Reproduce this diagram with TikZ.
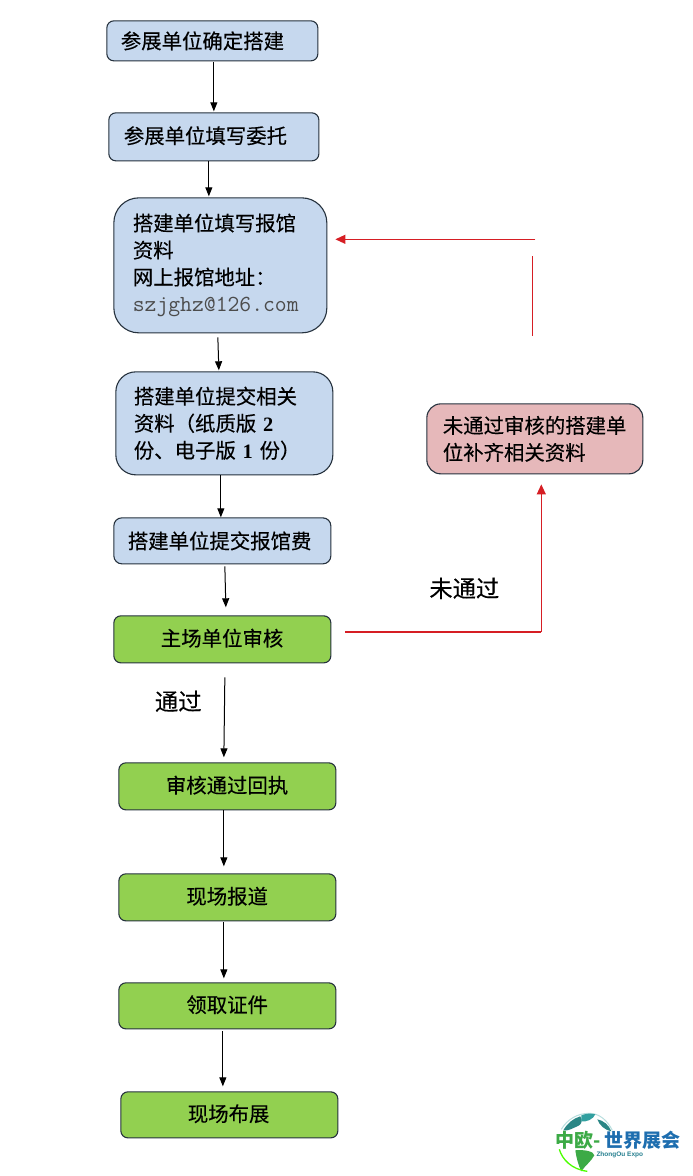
\documentclass[tikz,border=0pt]{standalone}
\usepackage{fontspec}
\setmainfont{Noto Sans CJK SC}[FakeBold=0.25]
\newfontfamily\logofont{Noto Sans CJK SC}
\newfontfamily\latinserif{Liberation Serif}
\newfontfamily\latinsans{Liberation Sans}
\newcommand{\numb}[1]{{\latinserif\bfseries #1}}
\usetikzlibrary{calc,arrows.meta}
\definecolor{boxblue}{RGB}{198,216,238}
\definecolor{boxgreen}{RGB}{146,208,80}
\definecolor{boxpink}{RGB}{230,184,186}
\definecolor{edgedark}{RGB}{38,50,62}
\definecolor{redline}{RGB}{214,30,36}
\definecolor{logogreen}{RGB}{60,170,70}
\definecolor{logoblue}{RGB}{30,110,175}
\definecolor{logoteal}{RGB}{50,160,160}
\tikzset{
  x=1pt,y=-1pt,
  flowbox/.style={draw=edgedark,line width=1.1pt,align=left,font=\fontsize{20.4}{27}\selectfont,inner xsep=0pt,inner ysep=0pt,anchor=north west},
  bluebox/.style={flowbox,fill=boxblue},
  greenbox/.style={flowbox,fill=boxgreen},
  pinkbox/.style={flowbox,fill=boxpink},
  arr/.style={black,line width=1pt,-{Triangle[length=9pt,width=7pt]}},
  redarr/.style={redline,line width=1.1pt,-{Triangle[length=10pt,width=9pt]}},
  redplain/.style={redline,line width=1.1pt},
  lab/.style={font=\fontsize{23.3}{26}\selectfont,inner sep=0pt},
  logomain/.style={font=\logofont\fontsize{19}{21}\bfseries\selectfont,inner sep=0pt,anchor=west},
}
\begin{document}
\begin{tikzpicture}
\useasboundingbox (0.7,0.7) rectangle (693.7,1176.7);
\fill[white] (0.7,0.7) rectangle (693.7,1176.7);
% boxes
\node[bluebox,rounded corners=7pt,minimum width=211pt,minimum height=40pt,text width=183pt] (n1) at (107,21) {参展单位确定搭建};
\node[bluebox,rounded corners=7pt,minimum width=210pt,minimum height=48pt,text width=180pt,text depth=4pt] (n2) at (109,113) {参展单位填写委托};
\node[bluebox,rounded corners=25pt,minimum width=213pt,minimum height=135pt,text width=175pt] (n3) at (114,198) {搭建单位填写报馆\\资料\\网上报馆地址：\\{\ttfamily\fontsize{23}{27}\selectfont\color{black!70}szjghz@126.com}};
\node[bluebox,rounded corners=20pt,minimum width=217pt,minimum height=103pt,text width=181pt] (n4) at (116,372) {搭建单位提交相关\\资料（纸质版 \numb{2}\\份、电子版 \numb{1} 份）};
\node[bluebox,rounded corners=8pt,minimum width=217pt,minimum height=46pt,text width=189pt] (n5) at (114,518) {搭建单位提交报馆费};
\node[greenbox,rounded corners=7pt,minimum width=217pt,minimum height=47pt,text width=123pt,text depth=4pt] (n6) at (114,616) {主场单位审核};
\node[greenbox,rounded corners=7pt,minimum width=217pt,minimum height=47pt,text width=123pt,text depth=4pt] (n7) at (119,763) {审核通过回执};
\node[greenbox,rounded corners=7pt,minimum width=217pt,minimum height=47pt,text width=82pt,text depth=4pt] (n8) at (119,874) {现场报道};
\node[greenbox,rounded corners=7pt,minimum width=217pt,minimum height=46pt,text width=82pt,text depth=4pt] (n9) at (119,983) {领取证件};
\node[greenbox,rounded corners=7pt,minimum width=217pt,minimum height=46pt,text width=83pt,text depth=4pt] (n10) at (121,1092) {现场布展};
\node[pinkbox,rounded corners=14pt,minimum width=216pt,minimum height=70pt,text width=184pt] (r) at (427,404) {未通过审核的搭建单\\位补齐相关资料};
% labels
\node[lab] (l1) at (465,589) {未通过};
\node[lab] (l2) at (179,702) {通过};
% black connectors
\draw[arr] ($(n1.south)+(1.5,1)$) -- ($(n2.north)+(0,-1)$);
\draw[arr] ($(n2.south)+(-5,0)$) -- ($(n3.north)+(-11.5,-1)$);
\draw[arr] ($(n3.south)+(-2.5,4)$) -- ($(n4.north)+(-5.5,-1)$);
\draw[arr] ($(n4.south)+(-3.5,0)$) -- ($(n5.north)+(-1.5,0)$);
\draw[arr] ($(n5.south)+(2.5,2)$) -- ($(n6.north)+(3.5,-8)$);
\draw[arr] ($(n6.south)+(2.5,14)$) -- ($(n7.north)+(-3.5,-5)$);
\draw[arr] ($(n7.south)+(-3.5,0)$) -- ($(n8.north)+(-3.5,-7)$);
\draw[arr] ($(n8.south)+(-3.5,1)$) -- ($(n9.north)+(-3.5,-4)$);
\draw[arr] ($(n9.south)+(-4.5,2)$) -- ($(n10.north)+(-6.5,-5)$);
% red connectors
\coordinate (c1) at (542,633);
\coordinate (c2) at (536,240);
\coordinate (c3) at (533,257);
\coordinate (c4) at (533,337);
\coordinate (t6) at ($(n6.east)+(14,0)$);
\coordinate (tr) at ($(r.south)+(0,10)$);
\coordinate (t3) at ($(n3.east)+(8,0)$);
\draw[redline,line width=1.7pt] (t6 |- c1) -- (c1);
\draw[redarr] (c1) -- (c1 |- tr);
\draw[redarr] (c2) -- (t3 |- c2);
\draw[redplain] (c3) -- (c4);
% logo
\draw[logoteal!35!white,line width=1pt] (562,1130) .. controls (568,1120) and (578,1114) .. (590,1114) .. controls (600,1114) and (608,1121) .. (613,1131);
\fill[logoblue!60!logogreen] (564,1131) .. controls (568,1124) and (574,1119) .. (581,1117) .. controls (584,1121) and (582,1126) .. (578,1127) .. controls (573,1129) and (569,1132) .. (564,1131) -- cycle;
\fill[logoteal] (582,1116) .. controls (587,1114) and (592,1114) .. (596,1115) .. controls (594,1120) and (587,1123) .. (582,1122) -- cycle;
\fill[logoblue!60!logogreen] (598,1120) .. controls (604,1121) and (610,1126) .. (612,1132) .. controls (606,1131) and (600,1126) .. (598,1120) -- cycle;
\fill[logogreen] (576,1151) .. controls (584,1150) and (595,1152) .. (595,1156) .. controls (592,1162) and (586,1166) .. (582,1172) .. controls (579,1166) and (577,1158) .. (576,1151) -- cycle;
\draw[green!70!yellow,line width=1.3pt] (560,1150) .. controls (563,1160) and (572,1170) .. (588,1172);
\node[logomain,text=logogreen] (lg1) at (556,1141) {中欧-};
\node[logomain,text=logoblue] (lg2) at (605,1141) {世界展会};
\node[font=\latinsans\fontsize{6.5}{7}\bfseries\selectfont,text=logoblue!70!logogreen,inner sep=0pt,anchor=west] (lg3) at (597,1156) {ZhongOu Expo};
\end{tikzpicture}
\end{document}
